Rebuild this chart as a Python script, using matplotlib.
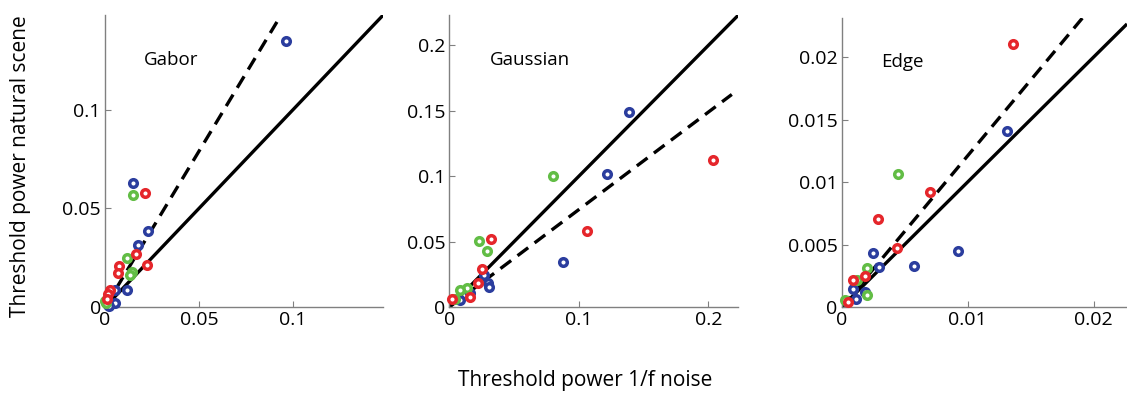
import numpy as np
import matplotlib
matplotlib.use("Agg")
import matplotlib.pyplot as plt

plt.rcParams['font.family'] = ['Open Sans', 'DejaVu Sans']

BLUE, RED, GREEN = "#2b3d9e", "#e5262b", "#62bd45"

# Gabor
gab_blue_x = [0.0961, 0.0148, 0.0229, 0.0176, 0.0115, 0.0053, 0.0053, 0.0016, 0.0023]
gab_blue_y = [0.1351, 0.0631, 0.0384, 0.0316, 0.0087, 0.0087, 0.0022, 0.0010, 0.0005]
gab_red_x = [0.0215, 0.0167, 0.0224, 0.0076, 0.0070, 0.0026, 0.0018, 0.0009]
gab_red_y = [0.0576, 0.0269, 0.0214, 0.0209, 0.0172, 0.0087, 0.0064, 0.0042]
gab_green_x = [0.0148, 0.0115, 0.0144, 0.0132, 0.0000, 0.0005]
gab_green_y = [0.0568, 0.0248, 0.0178, 0.0163, 0.0030, 0.0018]

# Gaussian
gau_blue_x = [0.1385, 0.1215, 0.0880, 0.0270, 0.0301, 0.0309, 0.0160, 0.0083]
gau_blue_y = [0.1492, 0.1015, 0.0344, 0.0244, 0.0180, 0.0155, 0.0104, 0.0053]
gau_red_x = [0.2033, 0.1066, 0.0322, 0.0250, 0.0224, 0.0160, 0.0019]
gau_red_y = [0.1122, 0.0579, 0.0523, 0.0294, 0.0180, 0.0074, 0.0059]
gau_green_x = [0.0803, 0.0232, 0.0289, 0.0134, 0.0083, 0.0040]
gau_green_y = [0.1003, 0.0505, 0.0426, 0.0142, 0.0129, 0.0060]

# Edge
edg_blue_x = [0.01313, 0.0092, 0.00573, 0.00251, 0.00298, 0.00092, 0.00185, 0.00113]
edg_blue_y = [0.01407, 0.00451, 0.00332, 0.0043, 0.00322, 0.00141, 0.00122, 0.00061]
edg_red_x = [0.01361, 0.0070, 0.0029, 0.00436, 0.00185, 0.00092, 0.00052]
edg_red_y = [0.02103, 0.00924, 0.00704, 0.0047, 0.00248, 0.00216, 0.00042]
edg_green_x = [0.00449, 0.00198, 0.00124, 0.00198, 0.00026]
edg_green_y = [0.01064, 0.0031, 0.0022, 0.00096, 0.00056]

panels = [
    dict(name="Gabor", lim=0.148, xt=[0, 0.05, 0.1], yt=[0, 0.05, 0.1],
         dash_slope=1.58, dash_end=0.0915,
         pts=[(gab_blue_x, gab_blue_y, BLUE), (gab_green_x, gab_green_y, GREEN), (gab_red_x, gab_red_y, RED)],
         pos=[0.0932, 0.2247, 0.2467, 0.737]),
    dict(name="Gaussian", lim=0.223, xt=[0, 0.1, 0.2], yt=[0, 0.05, 0.1, 0.15, 0.2],
         dash_slope=0.745, dash_end=0.218,
         pts=[(gau_blue_x, gau_blue_y, BLUE), (gau_green_x, gau_green_y, GREEN), (gau_red_x, gau_red_y, RED)],
         pos=[0.3987, 0.2247, 0.2564, 0.737]),
    dict(name="Edge", lim=0.02265, ylim=0.0231, xt=[0, 0.01, 0.02], yt=[0, 0.005, 0.01, 0.015, 0.02],
         dash_slope=1.21, dash_end=0.0192,
         pts=[(edg_blue_x, edg_blue_y, BLUE), (edg_green_x, edg_green_y, GREEN), (edg_red_x, edg_red_y, RED)],
         pos=[0.7468, 0.2247, 0.2532, 0.729]),
]

fig = plt.figure(figsize=(11.27, 3.96), dpi=100)
for p in panels:
    ax = fig.add_axes(p["pos"])
    lim = p["lim"]
    ax.plot([0, lim], [0, lim], color="k", lw=2.4, solid_capstyle="butt")
    ax.plot([0, p["dash_end"]], [0, p["dash_end"] * p["dash_slope"]], color="k", lw=2.4,
            dashes=(4, 2.4))
    for xs, ys, c in p["pts"]:
        ax.scatter(xs, ys, s=30, facecolor="white", edgecolor=c, linewidth=2.5, zorder=3, clip_on=False)
    ax.set_xlim(0, lim)
    ax.set_ylim(0, p.get("ylim", lim))
    ax.set_xticks(p["xt"])
    ax.set_yticks(p["yt"])
    ax.set_xticklabels(["%g" % v for v in p["xt"]])
    ax.set_yticklabels(["%g" % v for v in p["yt"]])
    for s in ["top", "right"]:
        ax.spines[s].set_visible(False)
    for s in ["left", "bottom"]:
        ax.spines[s].set_color("#808080")
        ax.spines[s].set_linewidth(1.0)
    ax.tick_params(direction="in", length=4, color="#808080", labelsize=14, pad=3)
    ax.text(0.14, 0.83, p["name"], transform=ax.transAxes, fontsize=13.5)

fig.text(0.018, 0.58, "Threshold power natural scene", rotation=90, va="center", ha="center", fontsize=15)
fig.text(0.519, 0.04, "Threshold power 1/f noise", va="center", ha="center", fontsize=15)
fig.savefig("out.png", dpi=100)
